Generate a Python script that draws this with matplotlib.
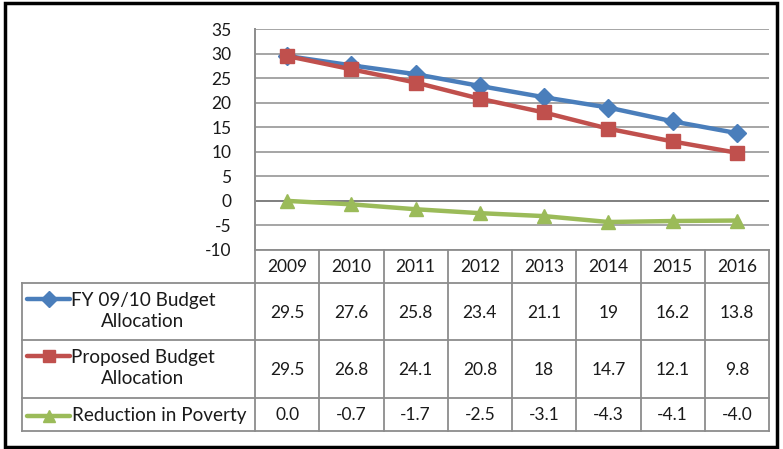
import matplotlib.pyplot as plt
from matplotlib.lines import Line2D

plt.rcParams['font.family'] = ['Lato', 'DejaVu Sans']

years = ['2009', '2010', '2011', '2012', '2013', '2014', '2015', '2016']
fy_budget = [29.5, 27.6, 25.8, 23.4, 21.1, 19, 16.2, 13.8]
proposed_budget = [29.5, 26.8, 24.1, 20.8, 18, 14.7, 12.1, 9.8]
poverty = [0.0, -0.7, -1.7, -2.5, -3.1, -4.3, -4.1, -4.0]

fy_labels = ['29.5', '27.6', '25.8', '23.4', '21.1', '19', '16.2', '13.8']
proposed_labels = ['29.5', '26.8', '24.1', '20.8', '18', '14.7', '12.1', '9.8']
poverty_labels = ['0.0', '-0.7', '-1.7', '-2.5', '-3.1', '-4.3', '-4.1', '-4.0']

series_names = ['FY 09/10 Budget\nAllocation', 'Proposed Budget\nAllocation', 'Reduction in Poverty']
colors = ['#4a7ebb', '#c0504d', '#9bbb59']
markers = ['D', 's', '^']
yticks = [35, 30, 25, 20, 15, 10, 5, 0, -5, -10]

W, H = 783, 449
FS = 12.5
LFS = 13.6
TC = '#1a1a1a'
fig = plt.figure(figsize=(W / 100, H / 100), dpi=100)

# plot area in pixel units
pl, pr, pt, pb = 255, 769, 29, 250
ax = fig.add_axes([pl / W, 1 - pb / H, (pr - pl) / W, (pb - pt) / H])
x = list(range(len(years)))
ms = [9, 10, 10]
for vals, c, m, s in zip([fy_budget, proposed_budget, poverty], colors, markers, ms):
    ax.plot(x, vals, color=c, lw=3.2, marker=m, ms=s, mec=c, mfc=c, zorder=3,
            solid_capstyle='round')
ax.set_xlim(-0.5, len(years) - 0.5)
ax.set_ylim(-10, 35)
ax.set_yticks(yticks)
ax.set_yticklabels([str(t) for t in yticks], fontsize=FS, color=TC)
ax.set_xticks([])
ax.tick_params(axis='y', length=0, pad=17)
for t in yticks:
    ax.axhline(t, color='#7f7f7f' if t == 0 else '#969696', lw=1.4 if t == 0 else 1.2, zorder=1)
for side in ['top', 'right', 'bottom']:
    ax.spines[side].set_visible(False)
ax.spines['left'].set_color('#8c8c8c')
ax.spines['left'].set_linewidth(1.4)

# data table below the plot
ov = fig.add_axes([0, 0, 1, 1])
ov.set_xlim(0, W)
ov.set_ylim(H, 0)
ov.axis('off')

tl = 22
rows_y = [250, 283, 340, 398, 431]
colw = (pr - pl) / len(years)
gc = '#8c8c8c'
ov.plot([pl, pr], [rows_y[0], rows_y[0]], color=gc, lw=1.3)
for yy in rows_y[1:]:
    ov.plot([tl, pr], [yy, yy], color=gc, lw=1.3)
ov.plot([tl, tl], [rows_y[1], rows_y[-1]], color=gc, lw=1.3)
for i in range(len(years) + 1):
    xx = pl + i * colw
    ov.plot([xx, xx], [rows_y[0], rows_y[-1]], color=gc, lw=1.3)

for i, yr in enumerate(years):
    ov.text(pl + (i + 0.5) * colw, (rows_y[0] + rows_y[1]) / 2 + 1, yr,
            ha='center', va='center', fontsize=FS, color=TC)

for r, labels in enumerate([fy_labels, proposed_labels, poverty_labels]):
    yc = (rows_y[r + 1] + rows_y[r + 2]) / 2 + 1
    for i, lab in enumerate(labels):
        ov.text(pl + (i + 0.5) * colw, yc, lab, ha='center', va='center',
                fontsize=FS, color=TC)
    # legend key and series name
    ky = rows_y[r + 1] + 16 if r < 2 else yc
    ov.add_line(Line2D([27, 70], [ky, ky], color=colors[r], lw=3.2,
                       solid_capstyle='round'))
    ov.plot([48.5], [ky], marker=markers[r], ms=ms[r] - 1, color=colors[r], mec=colors[r])
    if r < 2:
        ov.text(143, ky + 12, series_names[r], ha='center', va='center', fontsize=LFS,
                color=TC, multialignment='center', linespacing=1.3)
    else:
        ov.text(72, yc, series_names[r], ha='left', va='center', fontsize=LFS, color=TC)

# outer frame
ov.add_patch(plt.Rectangle((5, 3), 772, 444, fill=False, ec='black', lw=2.5))

fig.savefig('out.png', dpi=100)
